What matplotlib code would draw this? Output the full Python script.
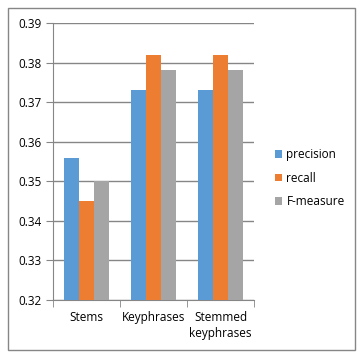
import numpy as np
import matplotlib.pyplot as plt
from matplotlib.patches import Rectangle

categories = ["Stems", "Keyphrases", "Stemmed\nkeyphrases"]
precision = [0.356, 0.373, 0.373]
recall = [0.345, 0.382, 0.382]
f_measure = [0.350, 0.378, 0.378]
series = [("precision", precision, "#5b9bd5"),
          ("recall", recall, "#ed7d31"),
          ("F-measure", f_measure, "#a5a5a5")]

W, H = 363, 358
fig = plt.figure(figsize=(W / 100, H / 100), dpi=100)
plt.rcParams['font.family'] = ['Open Sans', 'DejaVu Sans']

# outer chart border
fig.patches.append(Rectangle((8 / W, 8 / H), 347 / W, 342 / H, transform=fig.transFigure,
                             fill=False, edgecolor="#868686", linewidth=1))

ax = fig.add_axes([53 / W, 58 / H, 201 / W, 277 / H])
x = np.arange(len(categories))
bw = 0.22
for i, (name, vals, col) in enumerate(series):
    ax.bar(x + (i - 1) * bw, vals, width=bw, color=col, label=name, zorder=3)

ax.set_ylim(0.32, 0.39)
ax.set_xlim(-0.5, len(categories) - 0.5)
ax.set_yticks(np.arange(0.32, 0.3901, 0.01))
ax.set_yticklabels([f"{v:.2f}" for v in np.arange(0.32, 0.3901, 0.01)])
ax.yaxis.grid(True, color="#868686", linewidth=1, zorder=0)
for s in ["top", "right"]:
    ax.spines[s].set_visible(False)
for s in ["left", "bottom"]:
    ax.spines[s].set_color("#868686")
ax.tick_params(axis="y", length=5, color="#868686", labelsize=8.5, pad=3)
ax.set_xticks(x)
ax.set_xticklabels(categories, fontsize=8.5, linespacing=1.3)
ax.tick_params(axis="x", length=0, pad=8)
ax.set_xticks(np.arange(-0.5, len(categories), 1.0), minor=True)
ax.tick_params(axis="x", which="minor", length=5, color="#868686")

ax.legend(loc="center left", bbox_to_anchor=(1.05, 0.44), frameon=False, fontsize=8.5,
          handlelength=0.6, handleheight=0.6, handletextpad=0.4, labelspacing=0.9)

fig.savefig("out.png", dpi=100)
